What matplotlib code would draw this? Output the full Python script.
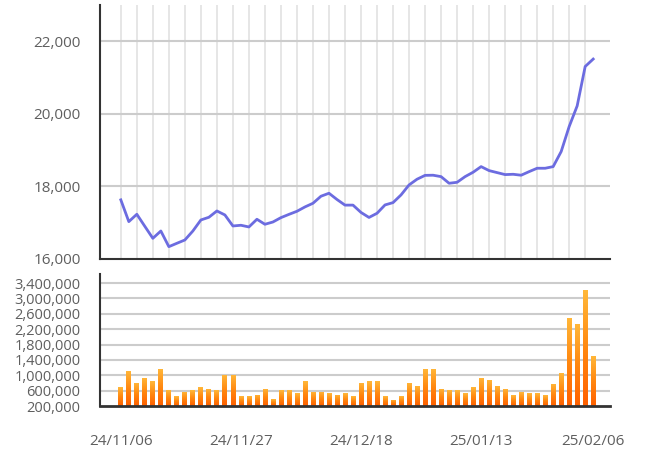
import numpy as np
import matplotlib.pyplot as plt
from matplotlib.colors import LinearSegmentedColormap

# 收盤價 (每日)
close = [17630, 17030, 17233, 16900, 16570, 16772, 16340, 16433, 16524, 16772,
         17076, 17150, 17324, 17214, 16910, 16930, 16883, 17095, 16957, 17020,
         17140, 17230, 17315, 17435, 17536, 17730, 17812, 17640, 17485, 17485,
         17283, 17145, 17260, 17490, 17554, 17766, 18041, 18199, 18305, 18309,
         18270, 18087, 18114, 18270, 18391, 18546, 18436, 18381, 18326, 18335,
         18309, 18408, 18501, 18501, 18546, 18960, 19650, 20220, 21305, 21510]

# 成交量
volume = [690000, 1124000, 805000, 930000, 850000, 1172000, 610000, 452000, 566000, 610000,
          690000, 646000, 610000, 1012000, 1012000, 452000, 452000, 487000, 646000, 377000,
          610000, 610000, 531000, 850000, 566000, 566000, 531000, 487000, 531000, 452000,
          805000, 850000, 850000, 449000, 369000, 449000, 804000, 724000, 1169000, 1169000,
          644000, 609000, 609000, 529000, 689000, 932000, 884000, 724000, 644000, 484000,
          564000, 529000, 529000, 484000, 780000, 1048000, 2500000, 2336000, 3218000, 1504000]

tick_pos = [0, 15, 30, 45, 59]
tick_labels = ['24/11/06', '24/11/27', '24/12/18', '25/01/13', '25/02/06']

price_ticks = [16000, 18000, 20000, 22000]
vol_ticks = [200000, 600000, 1000000, 1400000, 1800000, 2200000, 2600000, 3000000, 3400000]

plt.rcParams['font.family'] = ['Open Sans', 'DejaVu Sans']
text_color = '#5f5f5f'

x = np.arange(len(close))
xlim = (-2.6, 61.1)
vol_min = vol_ticks[0]

fig = plt.figure(figsize=(6.58, 4.63), dpi=100)
ax1 = fig.add_axes([100 / 658, 1 - 259 / 463, 510 / 658, 254 / 463])
ax2 = fig.add_axes([100 / 658, 1 - 406 / 463, 510 / 658, 131.7 / 463])

# 價格折線
for i in range(0, len(close), 2):
    ax1.axvline(i, color='#e6e6e6', lw=1.4, zorder=0)
for v in price_ticks[1:]:
    ax1.axhline(v, color='#cccccc', lw=1.5, zorder=0)
ax1.plot(x, close, color='#6c6ce0', lw=2.0, solid_joinstyle='round', zorder=3)
ax1.set_xlim(*xlim)
ax1.set_ylim(16000, 23000)
ax1.set_yticks(price_ticks)
ax1.set_yticklabels([f'{v:,}' for v in price_ticks])
ax1.set_xticks([])
for s in ['top', 'right']:
    ax1.spines[s].set_visible(False)
for s in ['left', 'bottom']:
    ax1.spines[s].set_color('#333333')
    ax1.spines[s].set_linewidth(1.5)
ax1.tick_params(axis='y', length=0, pad=14, labelsize=11, labelcolor=text_color)

# 成交量柱狀圖 (漸層)
for v in vol_ticks[1:]:
    ax2.axhline(v, color='#cccccc', lw=1.5, zorder=0)
heights = np.array(volume) - vol_min
bars = ax2.bar(x, heights, width=0.6, bottom=vol_min, color='none', edgecolor='none', zorder=2)
grad = np.linspace(0, 1, 100).reshape(-1, 1)
cmap = LinearSegmentedColormap.from_list('og', ['#ff6000', '#ff8810', '#ffb83a'])
for b in bars:
    bx, by = b.get_x(), b.get_y()
    bw, bh = b.get_width(), b.get_height()
    im = ax2.imshow(grad, extent=[bx, bx + bw, by, by + bh], origin='lower',
                    aspect='auto', cmap=cmap, zorder=2)
    im.set_clip_path(b)
ax2.set_xlim(*xlim)
ax2.set_ylim(vol_min, 3630000)
ax2.set_yticks(vol_ticks)
ax2.set_yticklabels([f'{v:,}' for v in vol_ticks])
ax2.set_xticks(tick_pos)
ax2.set_xticklabels(tick_labels)
for s in ['top', 'right']:
    ax2.spines[s].set_visible(False)
ax2.spines['left'].set_color('#333333')
ax2.spines['bottom'].set_color('#333333')
ax2.spines['left'].set_linewidth(1.5)
ax2.spines['bottom'].set_linewidth(2)
ax2.tick_params(axis='y', length=0, pad=14, labelsize=10.5, labelcolor=text_color)
ax2.tick_params(axis='x', length=0, pad=20, labelsize=11, labelcolor=text_color)

fig.savefig('out.png', dpi=100)
